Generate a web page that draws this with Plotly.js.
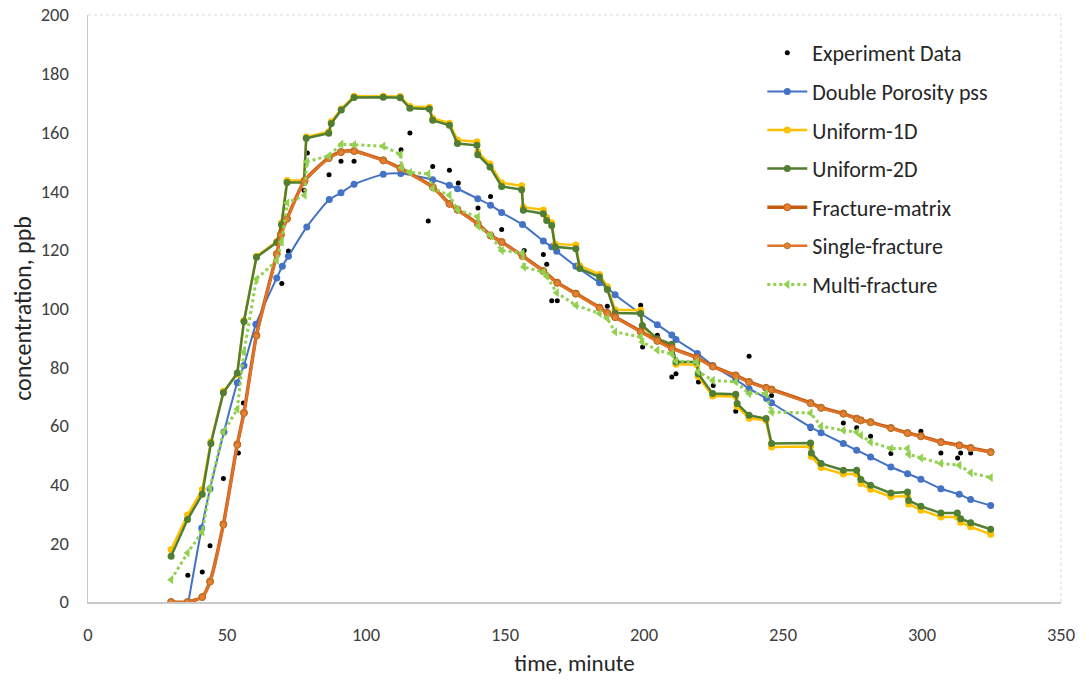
<!DOCTYPE html>
<html>
<head>
<meta charset="utf-8">
<script src="https://cdn.plot.ly/plotly-3.0.1.min.js"></script>
<style>html,body{margin:0;padding:0;background:#fff;}#chart{width:1089px;height:682px;}</style>
</head>
<body>
<div id="chart"></div>
<script>
// ---- Data ----
const expX = [35.9,41.1,43.9,48.7,54.1,55.9,69.7,72.1,77.7,78.9,86.7,91.0,95.7,112.6,115.8,122.4,124.0,130.0,133.2,140.3,144.8,148.8,156.9,163.8,165.0,166.8,168.8,186.8,198.8,199.5,204.8,210.0,211.5,219.6,224.9,233.0,237.8,245.9,259.9,271.7,276.5,281.5,288.8,299.6,306.8,312.8,313.9,317.5];
const expY = [9.1,10.2,19.2,42.1,50.8,67.8,108.5,119.6,140.3,153.0,145.6,150.2,150.2,154.1,159.8,129.8,148.4,147.1,142.8,134.2,138.2,126.9,119.8,118.4,115.1,102.6,102.6,100.8,101.1,86.9,90.9,76.7,77.8,75.0,73.8,65.0,83.7,70.4,59.1,61.0,59.4,56.5,50.6,58.2,50.8,49.1,50.8,50.8];

const dpX = [36.1,40.9,43.9,48.9,53.7,56.1,60.4,67.9,69.9,72.1,78.7,86.8,91.0,95.7,106.2,112.5,124.0,130.0,132.9,140.2,144.8,148.8,156.3,163.8,166.8,168.6,175.5,184.0,186.8,189.6,198.8,204.8,210.0,211.5,219.2,224.7,233.0,237.8,244.1,245.9,259.9,263.7,271.7,276.5,281.5,288.8,294.8,299.6,306.8,313.4,317.5,324.7];
const dpY = [0,25.2,38.6,57.9,74.7,80.6,94.6,110.4,114.4,117.8,127.8,137.1,139.4,142.3,145.7,146.0,143.9,142.0,140.8,137.4,135.2,132.7,128.6,123.0,121.0,119.5,114.4,108.8,107.1,104.7,98.3,94.5,91.0,89.4,84.7,80.6,75.8,72.7,69.3,67.9,59.6,57.7,54.0,51.7,49.4,46.0,43.7,41.8,38.6,36.7,34.9,32.9];

const uniX = [29.9,35.8,41.1,44.2,48.7,53.7,56.1,60.6,67.9,69.6,71.6,77.7,78.5,86.6,87.5,91.1,95.7,106.2,112.3,115.8,122.8,124.0,130.0,132.9,139.9,140.2,144.6,148.8,156.0,156.6,163.8,165.0,166.8,168.0,175.5,176.9,184.0,186.8,189.6,198.8,199.4,204.8,210.0,211.5,219.0,219.5,224.7,233.0,233.5,237.8,243.9,245.9,259.9,260.2,263.7,271.7,276.5,278.0,281.5,288.8,294.8,295.2,299.6,306.8,312.7,313.9,317.5,324.7];
const u1dY = [17.9,29.6,38.3,54.6,71.8,77.6,95.9,117.8,122.8,129.2,143.6,143.6,158.4,160.2,163.6,168.0,172.3,172.3,172.2,168.8,168.6,164.8,163.1,157.4,156.8,153.3,149.2,142.8,141.8,134.5,133.6,131.0,129.2,122.0,121.6,114.6,111.6,107.4,99.6,99.4,94.0,89.2,87.2,81.0,80.8,76.8,70.2,70.0,66.6,62.6,61.8,52.8,53.0,49.6,45.8,43.6,43.6,40.4,38.4,35.9,36.1,33.4,31.3,29.0,29.0,27.2,25.6,23.1];
const u2dY = [15.6,28.1,36.7,54.0,71.3,78.0,95.6,117.5,122.5,128.5,142.9,142.9,158.0,159.7,163.0,167.6,171.9,172.0,171.8,168.2,168.0,164.1,162.4,156.2,155.6,152.4,148.2,141.6,140.5,133.5,132.3,130.0,128.3,121.0,120.4,113.6,110.7,106.5,98.5,98.3,94.2,89.7,87.8,81.8,81.8,77.8,71.0,70.8,67.6,63.6,62.5,54.0,54.2,50.8,47.2,44.9,44.9,41.7,39.8,37.1,37.5,34.6,32.6,30.3,30.3,28.4,27.0,24.8];

const fracX = [29.9,35.8,41.1,43.9,48.7,53.7,56.1,60.6,67.9,69.4,71.6,77.9,86.6,91.0,95.7,106.2,112.4,124.0,130.0,132.9,140.2,144.8,148.8,156.3,163.8,168.8,175.5,184.0,186.8,189.6,198.8,204.8,210.0,218.9,224.7,233.0,237.8,243.9,245.9,259.9,263.7,271.7,276.5,278.0,281.5,288.8,294.8,299.6,306.8,313.4,317.5,324.7];
const fmY = [0,0,1.7,7.0,26.5,53.7,64.5,90.9,118.6,125.2,130.6,143.5,151.3,153.3,153.7,150.5,147.8,141.4,135.7,133.7,128.9,124.9,122.7,117.9,112.8,108.8,105.1,100.3,98.5,97.1,92.2,89.0,86.5,83.3,80.3,77.2,75.0,73.0,72.4,67.8,66.2,64.2,62.5,61.9,61.3,59.3,57.6,56.5,54.5,53.4,52.5,51.1];
const sfY = [0,0,1.6,6.8,26.2,53.4,64.2,90.6,118.4,125.0,130.4,143.3,151.1,153.1,153.5,150.3,147.6,141.2,135.5,133.5,128.7,124.7,122.5,117.7,112.6,108.6,104.9,100.1,98.3,96.9,92.0,88.8,86.3,83.1,80.1,77.0,74.8,72.8,72.2,67.6,66.0,64.0,62.3,61.7,61.1,59.1,57.4,56.3,54.3,53.2,52.3,50.9];

const mfX = [29.9,35.8,41.1,43.9,48.7,53.7,56.1,60.6,67.9,69.7,71.7,77.9,78.7,86.6,91.1,95.7,106.2,112.4,112.8,115.8,122.4,124.0,130.0,132.9,140.2,140.4,144.8,148.8,156.3,156.8,163.8,165.0,168.6,175.5,184.0,186.8,189.6,198.8,199.4,204.8,210.0,211.5,219.0,219.5,224.7,233.0,237.8,243.9,245.9,259.9,263.7,271.7,276.5,278.0,281.5,288.8,294.8,295.2,299.6,306.8,313.4,317.5,324.7];
const mfY = [7.6,16.7,23.9,39.0,57.9,65.7,85.2,110.0,116.4,122.7,136.0,138.6,150.0,152.0,156.0,155.8,155.3,152.5,148.0,146.4,145.9,140.9,138.6,133.7,131.2,128.0,124.9,119.8,118.9,114.1,112.4,111.0,105.4,101.1,98.3,96.6,92.0,90.3,88.6,85.8,84.5,82.1,81.8,78.5,75.5,75.0,71.0,71.0,64.7,64.4,59.9,58.5,57.9,56.8,54.5,52.3,52.3,50.3,49.1,47.2,46.6,44.0,42.4];

const names = ["Experiment Data","Double Porosity pss","Uniform-1D","Uniform-2D","Fracture-matrix","Single-fracture","Multi-fracture"];
const xTicks = [0,50,100,150,200,250,300,350];
const yTicks = [0,20,40,60,80,100,120,140,160,180,200];

const FONT = "Carlito, Lato, 'Open Sans', sans-serif";

const traces = [
  {x: expX, y: expY, name: names[0], mode: 'markers', type: 'scatter', legendgroup: 'g0',
   marker: {color: '#000000', size: 5}},
  {x: dpX, y: dpY, name: names[1], mode: 'lines+markers', type: 'scatter', legendgroup: 'g1',
   line: {color: '#4472C4', width: 2, shape: 'spline', smoothing: 0.6}, marker: {color: '#4472C4', size: 7}},
  {x: uniX, y: u1dY, name: names[2], mode: 'lines+markers', type: 'scatter', legendgroup: 'g2',
   line: {color: '#FFC000', width: 2.5}, marker: {color: '#FFC000', size: 7}},
  {x: uniX, y: u2dY, name: names[3], mode: 'lines+markers', type: 'scatter', legendgroup: 'g3',
   line: {color: '#507E32', width: 2.5}, marker: {color: '#507E32', size: 7}},
  {x: fracX, y: fmY, name: names[4], mode: 'lines+markers', type: 'scatter', legendgroup: 'g4',
   line: {color: '#C55A11', width: 3.5, shape: 'spline', smoothing: 0.6}, marker: {color: '#ED7D31', size: 7, line: {color: '#C55A11', width: 1}}},
  {x: fracX, y: sfY, name: names[5], mode: 'lines+markers', type: 'scatter', legendgroup: 'g5',
   line: {color: '#E0732A', width: 2.5, shape: 'spline', smoothing: 0.6}, marker: {color: '#ED7D31', size: 6, line: {color: '#A9782A', width: 1}}},
  {x: mfX, y: mfY, name: names[6], mode: 'lines+markers', type: 'scatter', legendgroup: 'g6',
   line: {color: '#92D050', width: 3, dash: 'dot'}, marker: {color: '#92D050', size: 8, symbol: 'triangle-left'}}
];

const layout = {
  width: 1089, height: 682,
  margin: {l: 88, r: 28, t: 15, b: 80},
  paper_bgcolor: '#ffffff', plot_bgcolor: '#ffffff',
  font: {family: FONT, color: '#404040'},
  showlegend: true,
  legend: {x: 0.693, y: 0.971, xanchor: 'left', yanchor: 'top', bgcolor: 'rgba(255,255,255,0)',
           font: {family: FONT, size: 22, color: '#262626'}, itemwidth: 40,
           traceorder: 'grouped', tracegroupgap: 7},
  xaxis: {range: [0, 350], tickvals: xTicks, ticktext: xTicks.map(String), showgrid: false, zeroline: false,
          showline: true, linecolor: '#C8C8C8', linewidth: 1.5, ticks: '', ticklabelstandoff: 15,
          tickfont: {family: FONT, size: 18.5, color: '#404040'},
          title: {text: 'time, minute', font: {family: FONT, size: 23, color: '#262626'}, standoff: 10}},
  yaxis: {range: [0, 200], tickvals: yTicks, ticktext: yTicks.map(String), showgrid: false, zeroline: false,
          showline: true, linecolor: '#C8C8C8', linewidth: 1.5, ticks: '', ticklabelstandoff: 14,
          tickfont: {family: FONT, size: 18.5, color: '#404040'},
          title: {text: 'concentration, ppb', font: {family: FONT, size: 24, color: '#262626'}, standoff: 2}},
  shapes: [
    {type: 'line', xref: 'paper', yref: 'paper', x0: 0, x1: 1, y0: 1, y1: 1, line: {color: '#D9D9D9', width: 1, dash: 'dot'}},
    {type: 'line', xref: 'paper', yref: 'paper', x0: 1, x1: 1, y0: 0, y1: 1, line: {color: '#D9D9D9', width: 1, dash: 'dot'}}
  ]
};

Plotly.newPlot('chart', traces, layout, {displayModeBar: false, staticPlot: true});
</script>
</body>
</html>
